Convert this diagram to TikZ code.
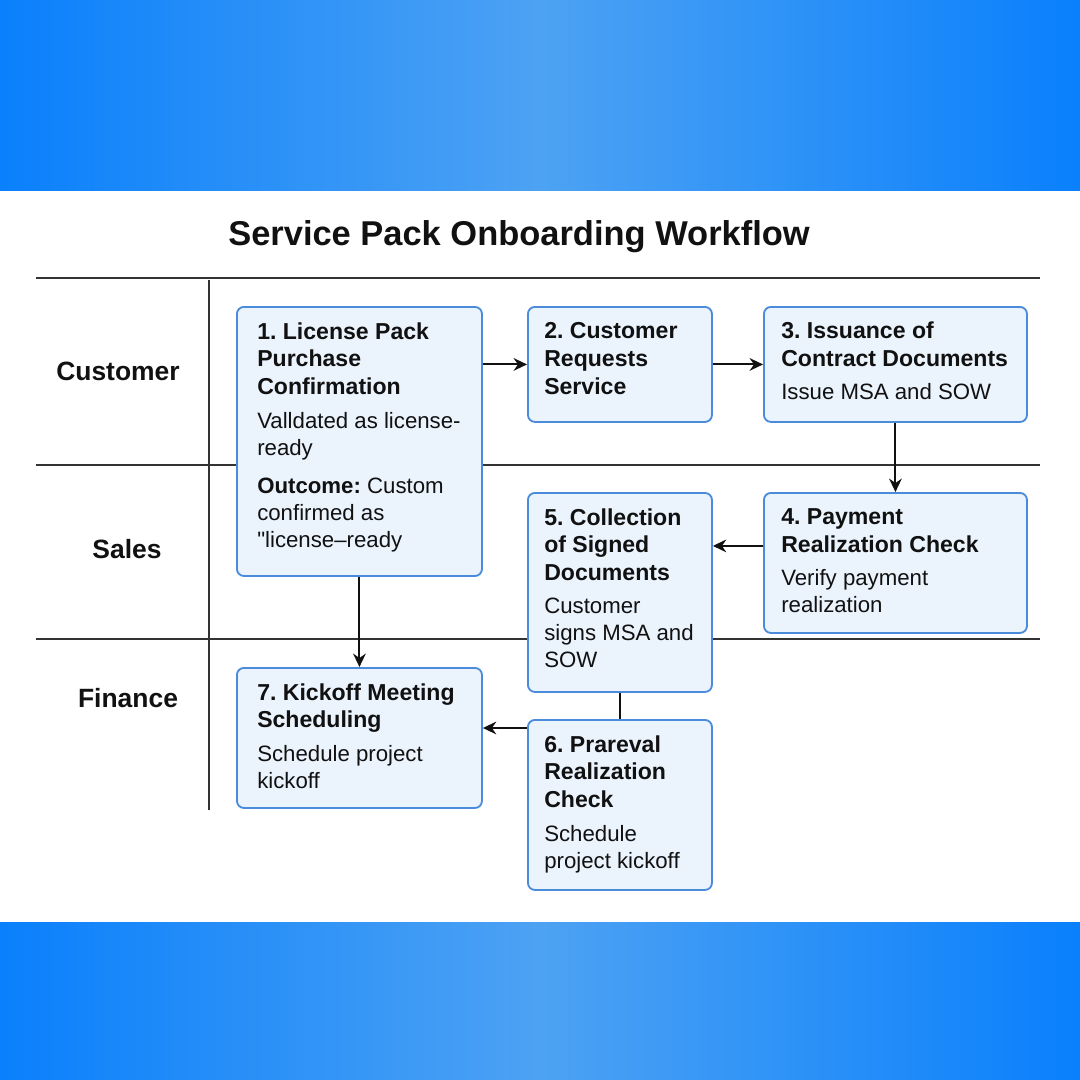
\documentclass[tikz,border=0pt]{standalone}
\usepackage{fontspec}
\setmainfont{Liberation Sans}
\newfontfamily\qfont{Liberation Sans}[Ligatures=TeXOff]
\usetikzlibrary{calc,arrows.meta}
\definecolor{bandA}{HTML}{0A80FC}
\definecolor{bandB}{HTML}{4DA2F3}
\definecolor{boxfill}{HTML}{EBF3FD}
\definecolor{boxline}{HTML}{4A8BDB}
\definecolor{lanegray}{HTML}{333333}
\definecolor{ink}{HTML}{111111}
\tikzset{
 box/.style={draw=boxline, fill=boxfill, line width=1.3pt, rounded corners=5pt, anchor=north west, inner sep=0},
 head/.style={anchor=north west, align=left, inner sep=0, font=\fontsize{16.4}{19.9}\selectfont\bfseries, text=ink},
 desc/.style={anchor=north west, align=left, inner sep=0, font=\fontsize{15.8}{19.2}\selectfont, text=ink},
 lane/.style={draw=lanegray, line width=1.3pt},
 lanelabel/.style={font=\fontsize{18.8}{22}\selectfont\bfseries, text=ink},
 arr/.style={draw=ink, -{Stealth[length=9.5pt,width=9pt]}, line width=1.4pt},
}
\begin{document}
\frenchspacing
\begin{tikzpicture}[x=0.025cm,y=-0.025cm]
% background
\fill[white] (0,0) rectangle (1080,1080);
\shade[left color=bandA, right color=bandA, middle color=bandB] (0,0) rectangle (1080,190);
\shade[left color=bandA, right color=bandA, middle color=bandB] (0,922) rectangle (1080,1080);

% title
\node[font=\fontsize{24.5}{28}\selectfont\bfseries, text=ink] (title) at (519,237) {Service Pack Onboarding Workflow};

% lanes
\draw[lane] (36,278) -- (1040,278);
\draw[lane] (36,465) -- (1040,465);
\draw[lane] (36,639) -- (1040,639);
\draw[lane] (209,280) -- (209,810);
\node[lanelabel] (lcust) at (118,371) {Customer};
\node[lanelabel] (lsales) at (127,549) {Sales};
\node[lanelabel] (lfin) at (128,698) {Finance};

% boxes
\node[box, minimum width=6.125cm, minimum height=6.725cm] (b1) at (236,306) {};
\node[box, minimum width=4.6cm, minimum height=2.875cm] (b2) at (527,306) {};
\node[box, minimum width=6.575cm, minimum height=2.875cm] (b3) at (763,306) {};
\node[box, minimum width=6.575cm, minimum height=3.5cm] (b4) at (763,492) {};
\node[box, minimum width=4.6cm, minimum height=4.975cm] (b5) at (527,492) {};
\node[box, minimum width=4.6cm, minimum height=4.25cm] (b6) at (527,719) {};
\node[box, minimum width=6.125cm, minimum height=3.5cm] (b7) at (236,667) {};

% box texts
\node[head] (h1) at (257,322) {1. License Pack\\Purchase\\Confirmation};
\node[desc] (d1) at (257,412) {Valldated as license-\\ready};
\node[desc] (o1) at (257,478) {\textbf{Outcome:} Custom\\confirmed as\\{\qfont"}license–ready};

\node[head] (h2) at (544,322) {2. Customer\\Requests\\Service};

\node[head] (h3) at (781,322) {3. Issuance of\\Contract Documents};
\node[desc] (d3) at (781,383) {Issue MSA and SOW};

\node[head] (h4) at (781,508) {4. Payment\\Realization Check};
\node[desc] (d4) at (781,569) {Verify payment\\realization};

\node[head] (h5) at (544,508) {5. Collection\\of Signed\\Documents};
\node[desc] (d5) at (544,598) {Customer\\signs MSA and\\SOW};

\node[head] (h6) at (544,735) {6. Prareval\\Realization\\Check};
\node[desc] (d6) at (544,825) {Schedule\\project kickoff};

\node[head] (h7) at (257,683) {7. Kickoff Meeting\\Scheduling};
\node[desc] (d7) at (257,745) {Schedule project\\kickoff};

% connectors
\coordinate (p4) at ($(b4.north west)!0.38!(b4.south west)$);
\coordinate (p6) at ($(b6.north west)+(0,9)$);
\draw[arr] (b1.east |- b2.west) -- (b2.west);
\draw[arr] (b2.east) -- (b3.west);
\draw[arr] (b3.south) -- (b4.north);
\draw[arr] (p4) -- (p4 -| b5.east);
\draw[lane, draw=ink] (b5.south) -- (b6.north);
\draw[arr] (p6) -- (p6 -| b7.east);
\draw[arr] (b1.south) -- (b7.north);
\end{tikzpicture}
\end{document}
